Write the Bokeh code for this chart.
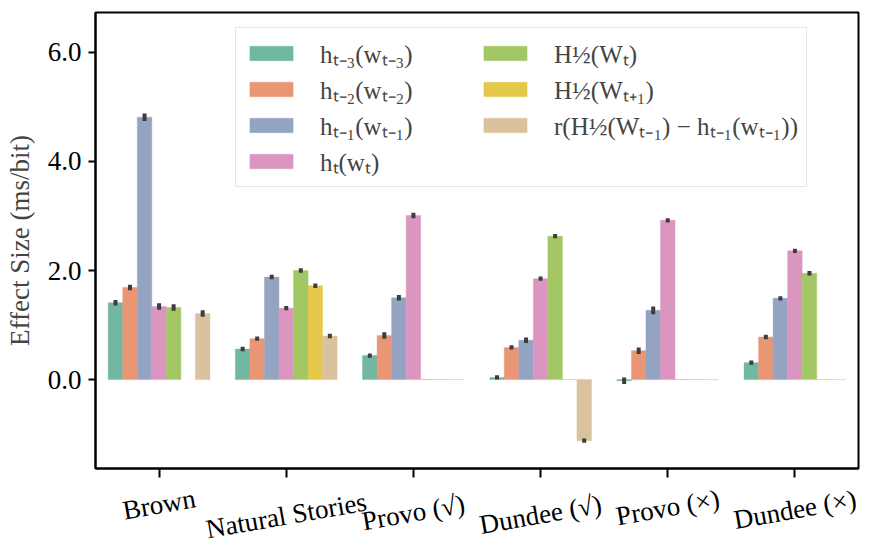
import math
from bokeh.plotting import figure
from bokeh.models import (ColumnDataSource, FactorRange, Range1d, FixedTicker,
                          Legend, LegendItem, NumeralTickFormatter)
from bokeh.core.properties import value
from bokeh.transform import dodge
from bokeh.embed import file_html
from bokeh.resources import INLINE

nan = float("nan")

categories = ["Brown", "Natural Stories", "Provo (√)", "Dundee (√)", "Provo (×)", "Dundee (×)"]

h_t3 = [1.41, 0.56, 0.44, 0.04, -0.02, 0.31]
h_t2 = [1.69, 0.75, 0.81, 0.59, 0.53, 0.78]
h_t1 = [4.81, 1.88, 1.50, 0.72, 1.27, 1.49]
h_t0 = [1.34, 1.31, 3.01, 1.85, 2.92, 2.36]
H_wt = [1.32, 2.00, 0.0, 2.63, 0.0, 1.95]
H_wt1 = [nan, 1.72, 0.0, 0.0, 0.0, 0.0]
r_diff = [1.21, 0.80, 0.0, -1.12, 0.0, 0.0]

e_t3 = [0.05, 0.04, 0.04, 0.04, 0.06, 0.04]
e_t2 = [0.05, 0.04, 0.06, 0.04, 0.06, 0.04]
e_t1 = [0.07, 0.04, 0.05, 0.05, 0.07, 0.04]
e_t0 = [0.06, 0.04, 0.05, 0.04, 0.04, 0.04]
e_wt = [0.06, 0.04, 0.0, 0.04, 0.0, 0.04]
e_wt1 = [0.0, 0.04, 0.0, 0.0, 0.0, 0.0]
e_r = [0.06, 0.04, 0.0, 0.04, 0.0, 0.0]

series_labels = ["hₜ₋₃(wₜ₋₃)", "hₜ₋₂(wₜ₋₂)", "hₜ₋₁(wₜ₋₁)", "hₜ(wₜ)",
                 "H½(Wₜ)", "H½(Wₜ₊₁)", "r(H½(Wₜ₋₁) − hₜ₋₁(wₜ₋₁))"]
series_values = [h_t3, h_t2, h_t1, h_t0, H_wt, H_wt1, r_diff]
series_errors = [e_t3, e_t2, e_t1, e_t0, e_wt, e_wt1, e_r]
colors = ["#71b7a1", "#e99675", "#95a3c3", "#db96c0", "#a2c764", "#e5c849", "#dbc29e"]

# layout: distance (px) of each rotated tick label's centre below the frame
tick_label_drop = [36, 47, 44, 46, 39, 41]

FONT = "Liberation Serif"

p = figure(x_range=FactorRange(*categories, range_padding=0),
           y_range=Range1d(-1.63, 6.73),
           frame_width=763, frame_height=456,
           min_border_left=95, min_border_top=12, min_border_right=6, min_border_bottom=80,
           output_backend="svg", toolbar_location=None, background_fill_color="white")

p.xgrid.visible = False
p.ygrid.visible = False
p.outline_line_color = "black"
p.outline_line_width = 2

n = len(series_values)
w = 0.8 / n
items = []
for i, (lab, vals, errs, col) in enumerate(zip(series_labels, series_values, series_errors, colors)):
    src = ColumnDataSource(dict(
        cat=categories, top=vals,
        lo=[v - e for v, e in zip(vals, errs)],
        hi=[v + e for v, e in zip(vals, errs)],
    ))
    off = (i - (n - 1) / 2) * w
    r = p.vbar(x=dodge("cat", off, range=p.x_range), top="top", bottom=0, width=w,
               source=src, fill_color=col, line_color=col, line_width=0.8, line_alpha=0.5)
    p.segment(x0=dodge("cat", off, range=p.x_range), x1=dodge("cat", off, range=p.x_range),
              y0="lo", y1="hi", source=src, line_color="#3d3d3d", line_width=4)
    items.append(LegendItem(label=lab, renderers=[r]))

legend = Legend(items=items, location=(140, 281), nrows=4,
                label_text_font=FONT, label_text_font_size="25px",
                glyph_width=54, glyph_height=18, label_standoff=22,
                label_height=20, label_width=156, spacing=2, padding=8, margin=0,
                border_line_color="#cccccc", border_line_width=1.5,
                background_fill_color="white", background_fill_alpha=0.85)
p.add_layout(legend, "center")

for ax in (p.xaxis[0], p.yaxis[0]):
    ax.axis_line_width = 2
    ax.major_tick_line_width = 2
    ax.major_tick_in = 0
    ax.minor_tick_line_color = None
    ax.major_label_text_font = FONT
    ax.major_label_text_font_size = "27px"
    ax.major_label_text_color = "black"

p.xaxis.major_tick_out = 9
p.xaxis.major_label_text_color = None

lab_src = ColumnDataSource(dict(cat=categories,
                                y=[p.y_range.start] * len(categories),
                                dy=tick_label_drop))
p.text(x=dodge("cat", 0, range=p.x_range), y="y", text="cat", source=lab_src,
       y_offset="dy", angle=math.radians(10), text_align="center", text_baseline="middle",
       text_font=value(FONT), text_font_size=value("27px"), text_color="black",
       level="overlay")

p.yaxis.ticker = FixedTicker(ticks=[0, 2, 4, 6])
p.yaxis.formatter = NumeralTickFormatter(format="0.0")
p.yaxis.major_tick_out = 7
p.yaxis.major_label_standoff = 7
p.yaxis.axis_label = "Effect Size (ms/bit)"
p.yaxis.axis_label_text_font = FONT
p.yaxis.axis_label_text_font_size = "27px"
p.yaxis.axis_label_text_font_style = "normal"
p.yaxis.axis_label_standoff = 10

open("out.html", "w").write(file_html(p, INLINE))
